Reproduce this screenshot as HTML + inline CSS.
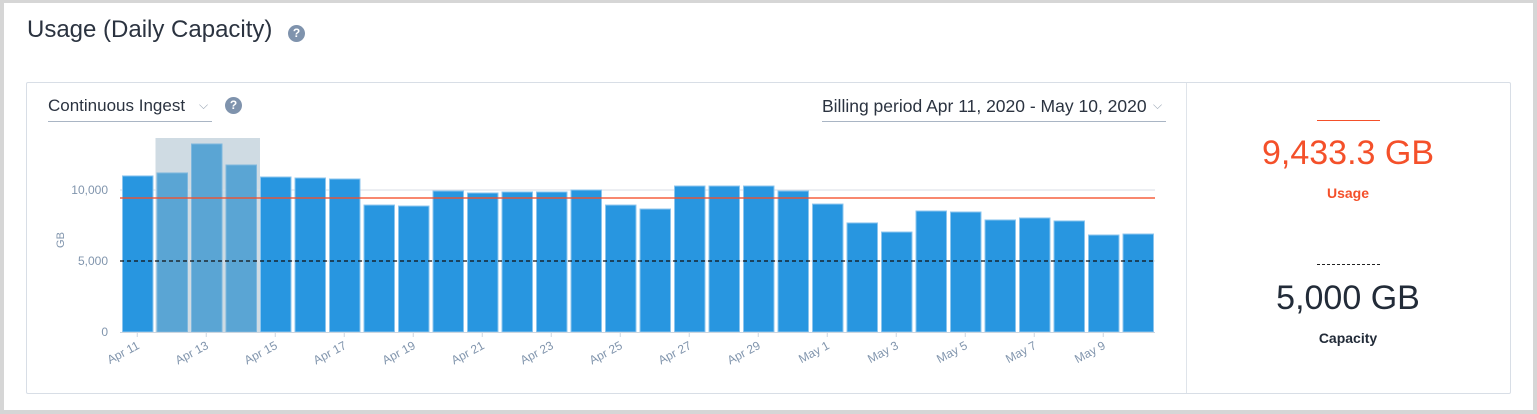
<!DOCTYPE html>
<html><head><meta charset="utf-8"><style>
html,body{margin:0;padding:0}
body{width:1537px;height:414px;background:#d6d6d6;position:relative;overflow:hidden;font-family:"Liberation Sans",sans-serif}
.panel{position:absolute;left:4px;top:3px;width:1529px;height:407px;background:#fff}
.t{position:absolute;white-space:nowrap}
.help{position:absolute;width:17px;height:17px;border-radius:50%;background:#7f93ad;color:#fff;font-weight:bold;font-size:12px;text-align:center;line-height:17px}
</style></head><body>
<div class="panel"></div>
<div class="t" style="left:27px;top:16px;font-size:24px;color:#2b3340;font-weight:300">Usage (Daily Capacity)</div>
<div class="help" style="left:288px;top:25px">?</div>
<div style="position:absolute;left:26px;top:82px;width:1483px;height:310px;border:1px solid #d8dee6;border-radius:2px;background:#fff"></div>
<div style="position:absolute;left:1186px;top:83px;width:1px;height:310px;background:#dfe4ea"></div>
<div style="position:absolute;left:48px;top:96px;width:164px;height:25px;border-bottom:1px solid #a9b5c4">
<span class="t" style="left:0;top:0px;font-size:17px;color:#2b3340">Continuous Ingest</span>
<span class="t" style="left:151px;top:2px;font-size:12px;color:#9aa6b5">⌵</span></div>
<div class="help" style="left:225px;top:97px">?</div>
<div style="position:absolute;left:822px;top:96px;width:344px;height:25px;border-bottom:1px solid #a9b5c4">
<span class="t" style="left:0;top:0px;font-size:17.5px;color:#2b3340">Billing period Apr 11, 2020 - May 10, 2020</span>
<span class="t" style="left:331px;top:2px;font-size:12px;color:#9aa6b5">⌵</span></div>
<svg id="chart" width="1537" height="414" style="position:absolute;left:0;top:0"></svg>
<div style="position:absolute;left:1317px;top:120px;width:63px;height:1px;background:#f4502a"></div>
<div class="t" style="left:1248px;top:134px;width:200px;text-align:center;font-size:34px;color:#f4502a">9,433.3 GB</div>
<div class="t" style="left:1248px;top:185px;width:200px;text-align:center;font-size:14px;font-weight:bold;color:#f4502a">Usage</div>
<div style="position:absolute;left:1317px;top:264px;width:63px;height:0;border-top:1px dashed #222"></div>
<div class="t" style="left:1248px;top:279px;width:200px;text-align:center;font-size:34px;color:#222b38">5,000 GB</div>
<div class="t" style="left:1248px;top:330px;width:200px;text-align:center;font-size:14px;font-weight:bold;color:#222b38">Capacity</div>
<script>
const categories=["Apr 11","Apr 12","Apr 13","Apr 14","Apr 15","Apr 16","Apr 17","Apr 18","Apr 19","Apr 20","Apr 21","Apr 22","Apr 23","Apr 24","Apr 25","Apr 26","Apr 27","Apr 28","Apr 29","Apr 30","May 1","May 2","May 3","May 4","May 5","May 6","May 7","May 8","May 9","May 10"];
const usageValues=[10990,11200,13240,11760,10915,10845,10775,8940,8870,9930,9790,9860,9860,10000,8940,8660,10280,10280,10280,9930,9010,7680,7040,8520,8450,7890,8030,7820,6830,6900];
const yTicks=[0,5000,10000];
const yTickLabels=["0","5,000","10,000"];
const averageUsage=9433.3;
const capacity=5000;
const highlighted=[1,2,3];
const NS="http://www.w3.org/2000/svg";
const svg=document.getElementById('chart');
const x0=120,x1=1155,yBase=332,yTop=190,yTopVal=10000;
const pitch=(x1-x0)/categories.length;
const X=i=>x0+i*pitch;
const Y=v=>yBase-(v/yTopVal)*(yBase-yTop);
function mk(tag,a){const e=document.createElementNS(NS,tag);for(const k in a)e.setAttribute(k,a[k]);svg.appendChild(e);return e;}
const hb=mk('rect',{x:X(highlighted[0])+1,y:138,width:pitch*highlighted.length+1,height:yBase-138,fill:'#cfdbe3'});


yTicks.forEach((t,i)=>{
  if(t>0){const g=mk('line',{x1:x0,x2:x1,y1:Y(t),y2:Y(t),stroke:'#d8dee6','stroke-width':1});
  
  }
  const l=mk('text',{x:108,y:Y(t)+4,'text-anchor':'end','font-size':12,fill:'#8195ad','font-family':'Liberation Sans'});
  l.textContent=yTickLabels[i];
  
  
});
const yt=mk('text',{x:0,y:0,transform:'translate(64,240) rotate(-90)','text-anchor':'middle','font-size':11,fill:'#8195ad','font-family':'Liberation Sans'});
yt.textContent='GB';


usageValues.forEach((v,i)=>{
  const hl=highlighted.includes(i);
  const b=mk('rect',{x:X(i)+2.5,y:Y(v),width:pitch-4,height:yBase-Y(v),fill:hl?'#5aa5d4':'#2896e0',stroke:hl?'#7fb8de':'#8cc5ee','stroke-width':1});
  
  
});
const ax=mk('line',{x1:x0,x2:x1,y1:yBase+0.5,y2:yBase+0.5,stroke:'#ccd6e0','stroke-width':1});


categories.forEach((c,i)=>{
  if(i%2) return;
  const cx=X(i)+pitch/2;
  const tk=mk('line',{x1:cx,x2:cx,y1:yBase,y2:yBase+5,stroke:'#ccd6e0'});
  
  
  const l=mk('text',{x:0,y:0,transform:`translate(${cx+3},${yBase+16}) rotate(-28)`,'text-anchor':'end','font-size':12,fill:'#8195ad','font-family':'Liberation Sans'});
  l.textContent=c;
  
  
});
const al=mk('line',{x1:x0,x2:x1,y1:Y(averageUsage),y2:Y(averageUsage),stroke:'#f4502a','stroke-width':1.5,'stroke-opacity':0.9});


const cl=mk('line',{x1:x0,x2:x1,y1:Y(capacity),y2:Y(capacity),stroke:'#111','stroke-width':1.3,'stroke-dasharray':'4,3'});


</script>
</body></html>
